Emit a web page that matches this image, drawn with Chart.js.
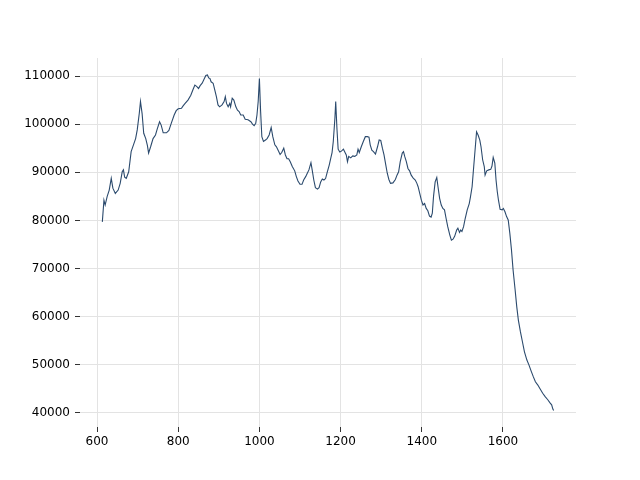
<!DOCTYPE html>
<html>
<head>
<meta charset="utf-8">
<script src="https://cdn.jsdelivr.net/npm/chart.js@4.4.1/dist/chart.umd.min.js"></script>
<style>
  body { margin: 0; background: #fff; }
</style>
</head>
<body>
<canvas id="myChart" width="640" height="480"></canvas>
<script>

const xs = [613, 617, 620, 625, 630, 635, 639, 645, 652, 657, 662, 665, 668, 672, 678, 684, 691, 695, 699, 704,
    707, 711, 715, 720, 724, 727, 732, 738, 744, 748, 754, 758, 763, 771, 777, 783, 790, 795, 800, 808,
    812, 817, 824, 831, 836, 841, 846, 850, 854, 859, 863, 868, 872, 875, 878, 881, 886, 890, 894, 898,
    902, 908, 913, 916, 919, 923, 927, 929, 933, 937, 942, 946, 950, 954, 960, 965, 972, 979, 983, 987,
    991, 994, 997, 1000, 1003, 1006, 1010, 1015, 1019, 1024, 1029, 1033, 1038, 1042, 1047, 1051, 1055, 1060, 1064, 1068,
    1072, 1076, 1081, 1087, 1091, 1095, 1100, 1105, 1109, 1114, 1118, 1122, 1127, 1130, 1134, 1138, 1143, 1147, 1151, 1155,
    1159, 1163, 1167, 1172, 1176, 1179, 1182, 1186, 1188, 1191, 1194, 1198, 1202, 1207, 1211, 1214, 1217, 1220, 1225, 1230,
    1235, 1240, 1243, 1246, 1251, 1256, 1261, 1266, 1270, 1273, 1277, 1281, 1286, 1291, 1295, 1299, 1303, 1307, 1311, 1315,
    1319, 1323, 1329, 1335, 1339, 1343, 1347, 1352, 1355, 1358, 1362, 1366, 1370, 1374, 1379, 1384, 1388, 1391, 1395, 1399,
    1403, 1407, 1411, 1415, 1419, 1423, 1426, 1429, 1433, 1437, 1440, 1444, 1448, 1452, 1456, 1460, 1464, 1469, 1473, 1477,
    1481, 1486, 1489, 1493, 1496, 1499, 1503, 1507, 1512, 1517, 1520, 1524, 1528, 1532, 1535, 1539, 1543, 1546, 1550, 1554,
    1556, 1560, 1565, 1570, 1573, 1576, 1580, 1583, 1586, 1589, 1593, 1598, 1601, 1605, 1609, 1613, 1617, 1621, 1625, 1630,
    1634, 1638, 1643, 1648, 1653, 1659, 1664, 1670, 1675, 1680, 1686, 1691, 1698, 1704, 1710, 1716, 1720, 1723, 1725]

const ys = [79700, 84200, 83200, 85000, 86300, 88750, 86700, 85600, 86300, 87700, 90100, 90500, 89000, 88750, 90100, 94300, 96000, 97000, 98800, 102200,
    104700, 102200, 98100, 97000, 95600, 94000, 95300, 97000, 97750, 98900, 100500, 99800, 98200, 98200, 98700, 100200, 101900, 102800, 103200, 103300,
    103800, 104300, 105000, 106000, 107100, 108100, 107800, 107400, 108000, 108500, 109200, 110100, 110200, 109600, 109500, 108800, 108500, 107100, 105700, 104000,
    103600, 104000, 104700, 105700, 104300, 103600, 104300, 103600, 105400, 105000, 103600, 102900, 102600, 101900, 101900, 101000, 100900, 100500, 100000, 99700,
    100200, 101900, 104700, 109500, 102600, 97400, 96400, 96700, 97000, 97750, 99300, 97400, 95700, 95300, 94400, 93700, 94100, 95000, 93600, 92800,
    92800, 92200, 91200, 90300, 89100, 88200, 87500, 87500, 88400, 89100, 89800, 90500, 92000, 90500, 88400, 86800, 86500, 86800, 88000, 88600,
    88400, 88700, 90000, 91500, 93000, 94100, 96400, 101200, 104700, 99100, 94800, 94200, 94400, 94800, 94100, 93600, 92200, 93300, 93000, 93400,
    93300, 93600, 94800, 94100, 95300, 96400, 97400, 97400, 97300, 95700, 94600, 94300, 93800, 95300, 96700, 96600, 95000, 93600, 91700, 89800,
    88500, 87700, 87800, 88500, 89400, 90100, 92200, 94000, 94300, 93300, 92200, 90800, 90300, 89400, 88800, 88400, 87700, 87000, 85600, 84200,
    83200, 83500, 82500, 82000, 80900, 80700, 81500, 85000, 88000, 88900, 87000, 84600, 83200, 82500, 82200, 80400, 78700, 77000, 75900, 76100,
    76700, 78000, 78400, 77500, 78000, 77700, 78700, 80400, 82200, 83500, 84900, 87000, 91200, 95300, 98400, 97700, 96700, 95300, 92600, 91200,
    89400, 90300, 90500, 90600, 91300, 93100, 91900, 88400, 86000, 84200, 82300, 82200, 82500, 81800, 80800, 80100, 77300, 73900, 69700, 65600,
    62100, 59300, 56900, 54800, 52700, 51000, 50000, 48600, 47500, 46500, 45800, 45100, 44100, 43400, 42800, 42100, 41700, 40800, 40500]

const xTicks = [600, 800, 1000, 1200, 1400, 1600]
const yTicks = [40000, 50000, 60000, 70000, 80000, 90000, 100000, 110000]

const puntos = xs.map((x, i) => ({ x: x, y: ys[i] }))

const grilla = '#e3e3e3'
const fuente = { family: 'DejaVu Sans', size: 12 }

var ctx = document.getElementById('myChart')
var myChart = new Chart(ctx, {
    type: 'line',
    data: {
        datasets: [{
            data: puntos,
            borderColor: '#2b4a6d',
            borderWidth: 1.1,
            pointRadius: 0,
            tension: 0
        }]
    },
    options: {
        responsive: false,
        animation: false,
        layout: { padding: { top: 58, right: 64, left: 0, bottom: 0 } },
        plugins: { legend: { display: false }, tooltip: { enabled: false } },
        scales: {
            x: {
                type: 'linear',
                min: 558,
                max: 1780,
                afterBuildTicks: s => { s.ticks = xTicks.map(v => ({ value: v })) },
                afterFit: s => { s.height = 53 },
                border: { display: false },
                grid: { color: grilla, lineWidth: 1, tickColor: '#333', tickLength: 5 },
                ticks: { color: '#000', font: fuente, padding: 3, maxRotation: 0, callback: v => v }
            },
            y: {
                min: 37090,
                max: 113740,
                afterBuildTicks: s => { s.ticks = yTicks.map(v => ({ value: v })) },
                afterFit: s => { s.width = 80 },
                border: { display: false },
                grid: { color: grilla, lineWidth: 1, tickColor: '#333', tickLength: 5 },
                ticks: { color: '#000', font: fuente, padding: 5, callback: v => v }
            }
        }
    }
})

</script>
</body>
</html>
